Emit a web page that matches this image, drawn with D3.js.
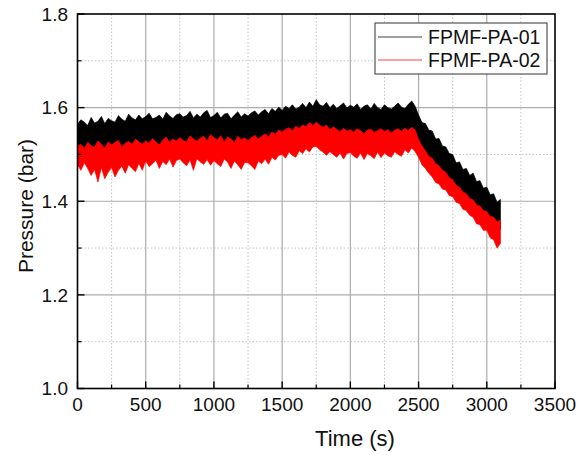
<!DOCTYPE html>
<html>
<head>
<meta charset="utf-8">
<script src="https://cdn.jsdelivr.net/npm/d3@7"></script>
<style>
  body { margin: 0; background: #fff; }
  text { font-family: "Liberation Sans", Arial, sans-serif; fill: #111; }
</style>
</head>
<body>
<svg id="chart" width="587" height="455"></svg>
<script>
// sampled every 25 s from 0 to 3100 s; hi/lo = upper and lower edge of the noisy trace
var sampleStep = 25;

var seriesNames = ['FPMF-PA-01', 'FPMF-PA-02'];
var seriesColors = ['#000000', '#ff0000'];

var pa01Hi = [
  1.565, 1.574, 1.569, 1.562, 1.579, 1.567, 1.571, 1.581, 1.566, 1.577,
  1.572, 1.569, 1.583, 1.575, 1.571, 1.586, 1.578, 1.574, 1.584, 1.576,
  1.581, 1.588, 1.576, 1.579, 1.584, 1.575, 1.590, 1.582, 1.577, 1.585,
  1.587, 1.580, 1.583, 1.592, 1.578, 1.586, 1.580, 1.589, 1.594, 1.579,
  1.583, 1.590, 1.578, 1.586, 1.588, 1.576, 1.584, 1.591, 1.580, 1.587,
  1.582, 1.589, 1.593, 1.584, 1.591, 1.596, 1.587, 1.598, 1.592, 1.601,
  1.594, 1.603, 1.598, 1.606, 1.597, 1.601, 1.609, 1.600, 1.612, 1.603,
  1.617, 1.606, 1.603, 1.611, 1.600, 1.607, 1.598, 1.604, 1.610, 1.599,
  1.605, 1.601, 1.608, 1.596, 1.603, 1.606, 1.597, 1.609, 1.600, 1.596,
  1.606, 1.600, 1.597, 1.603, 1.610, 1.601, 1.598, 1.607, 1.614, 1.603,
  1.584, 1.568, 1.566, 1.552, 1.550, 1.533, 1.534, 1.518, 1.516, 1.502,
  1.500, 1.482, 1.484, 1.468, 1.470, 1.455, 1.460, 1.442, 1.444, 1.428,
  1.430, 1.414, 1.416, 1.398, 1.404
];
var pa01Lo = [
  1.512, 1.508, 1.514, 1.506, 1.511, 1.509, 1.515, 1.507, 1.512, 1.510,
  1.514, 1.509, 1.516, 1.511, 1.518, 1.512, 1.517, 1.513, 1.519, 1.514,
  1.520, 1.515, 1.521, 1.516, 1.522, 1.517, 1.523, 1.518, 1.522, 1.519,
  1.524, 1.518, 1.525, 1.520, 1.526, 1.519, 1.524, 1.521, 1.527, 1.520,
  1.525, 1.519, 1.526, 1.520, 1.524, 1.518, 1.525, 1.519, 1.523, 1.518,
  1.524, 1.519, 1.527, 1.522, 1.530, 1.525, 1.534, 1.528, 1.537, 1.532,
  1.540, 1.535, 1.543, 1.538, 1.546, 1.541, 1.549, 1.544, 1.552, 1.547,
  1.554, 1.548, 1.550, 1.545, 1.547, 1.542, 1.546, 1.540, 1.545, 1.539,
  1.543, 1.538, 1.544, 1.537, 1.542, 1.536, 1.543, 1.537, 1.542, 1.536,
  1.543, 1.537, 1.542, 1.538, 1.544, 1.539, 1.545, 1.540, 1.547, 1.541,
  1.525, 1.512, 1.503, 1.492, 1.484, 1.474, 1.468, 1.458, 1.450, 1.442,
  1.435, 1.424, 1.418, 1.410, 1.404, 1.396, 1.392, 1.383, 1.378, 1.370,
  1.366, 1.356, 1.351, 1.344, 1.340
];
var pa02Hi = [
  1.518, 1.522, 1.512, 1.526, 1.519, 1.515, 1.529, 1.522, 1.513, 1.527,
  1.520, 1.526, 1.530, 1.516, 1.524, 1.528, 1.521, 1.533, 1.527, 1.522,
  1.529, 1.524, 1.534, 1.527, 1.520, 1.531, 1.537, 1.526, 1.533, 1.529,
  1.536, 1.530, 1.527, 1.540, 1.533, 1.528, 1.535, 1.539, 1.529, 1.542,
  1.536, 1.531, 1.540, 1.527, 1.537, 1.533, 1.525, 1.539, 1.532, 1.535,
  1.530, 1.536, 1.541, 1.533, 1.539, 1.544, 1.538, 1.548, 1.543, 1.552,
  1.548, 1.554, 1.557, 1.551, 1.560, 1.556, 1.563, 1.559, 1.568, 1.562,
  1.569, 1.563, 1.558, 1.563, 1.552, 1.559, 1.554, 1.548, 1.556, 1.550,
  1.553, 1.548, 1.555, 1.551, 1.544, 1.552, 1.554, 1.547, 1.551, 1.555,
  1.549, 1.553, 1.546, 1.552, 1.555, 1.549, 1.556, 1.551, 1.558, 1.552,
  1.532, 1.518, 1.508, 1.496, 1.492, 1.480, 1.476, 1.466, 1.462, 1.450,
  1.446, 1.434, 1.430, 1.420, 1.416, 1.406, 1.403, 1.392, 1.390, 1.380,
  1.378, 1.368, 1.366, 1.356, 1.360
];
var pa02Lo = [
  1.478, 1.466, 1.482, 1.470, 1.455, 1.468, 1.441, 1.472, 1.448, 1.462,
  1.472, 1.452, 1.466, 1.475, 1.460, 1.478, 1.470, 1.463, 1.481, 1.466,
  1.486, 1.474, 1.480, 1.488, 1.470, 1.485, 1.478, 1.490, 1.473, 1.487,
  1.490, 1.482, 1.476, 1.488, 1.466, 1.491, 1.484, 1.479, 1.489, 1.477,
  1.487, 1.480, 1.474, 1.490, 1.484, 1.470, 1.486, 1.478, 1.468, 1.483,
  1.482, 1.476, 1.468, 1.486, 1.480, 1.490, 1.479, 1.494, 1.488, 1.498,
  1.500, 1.492, 1.505, 1.498, 1.494, 1.508, 1.502, 1.512, 1.505, 1.516,
  1.517, 1.510, 1.505, 1.498, 1.506, 1.500, 1.494, 1.503, 1.490, 1.502,
  1.504, 1.496, 1.492, 1.503, 1.489, 1.502, 1.497, 1.491, 1.505, 1.493,
  1.503, 1.497, 1.494, 1.506, 1.500, 1.496, 1.510, 1.503, 1.514, 1.506,
  1.494, 1.478, 1.470, 1.460, 1.452, 1.440, 1.437, 1.426, 1.424, 1.412,
  1.410, 1.398, 1.395, 1.383, 1.380, 1.370, 1.366, 1.352, 1.350, 1.338,
  1.338, 1.322, 1.318, 1.300, 1.310
];

var xMajorTicks = [0, 500, 1000, 1500, 2000, 2500, 3000, 3500];
var xMinorTicks = [250, 750, 1250, 1750, 2250, 2750, 3250];
var yMajorTicks = [1.0, 1.2, 1.4, 1.6, 1.8];
var yMinorTicks = [1.1, 1.3, 1.5, 1.7];

var plotLeft = 77.5, plotRight = 555, plotTop = 14, plotBottom = 388.5;

var svg = d3.select('#chart');
var x = d3.scaleLinear().domain([0, 3500]).range([plotLeft, plotRight]);
var y = d3.scaleLinear().domain([1.0, 1.8]).range([plotBottom, plotTop]);

function vLines(g, data, color, width, dash) {
  g.selectAll(null).data(data).enter().append('line')
    .attr('x1', function (d) { return x(d); }).attr('x2', function (d) { return x(d); })
    .attr('y1', plotTop).attr('y2', plotBottom)
    .attr('stroke', color).attr('stroke-width', width).attr('stroke-dasharray', dash);
}
function hLines(g, data, color, width, dash) {
  g.selectAll(null).data(data).enter().append('line')
    .attr('y1', function (d) { return y(d); }).attr('y2', function (d) { return y(d); })
    .attr('x1', plotLeft).attr('x2', plotRight)
    .attr('stroke', color).attr('stroke-width', width).attr('stroke-dasharray', dash);
}

// grid
var grid = svg.append('g');
vLines(grid, xMinorTicks, '#c4c4c4', 1, '1.5,2');
hLines(grid, yMinorTicks, '#c4c4c4', 1, '1.5,2');
vLines(grid, xMajorTicks.slice(1, -1), '#acacac', 1.2, null);
hLines(grid, yMajorTicks.slice(1, -1), '#acacac', 1.2, null);

// traces
svg.append('clipPath').attr('id', 'clip').append('rect')
  .attr('x', plotLeft).attr('y', plotTop)
  .attr('width', plotRight - plotLeft).attr('height', plotBottom - plotTop);

var traces = [
  { hi: pa01Hi, lo: pa01Lo, color: seriesColors[0] },
  { hi: pa02Hi, lo: pa02Lo, color: seriesColors[1] }
];
var band = d3.area()
  .x(function (d) { return x(d.t); })
  .y0(function (d) { return y(d.lo); })
  .y1(function (d) { return y(d.hi); });

var plot = svg.append('g').attr('clip-path', 'url(#clip)');
traces.forEach(function (s) {
  var rows = s.hi.map(function (v, i) { return { t: i * sampleStep, hi: v, lo: s.lo[i] }; });
  plot.append('path').datum(rows)
    .attr('d', band)
    .attr('fill', s.color)
    .attr('stroke', s.color)
    .attr('stroke-width', 0.7)
    .attr('stroke-linejoin', 'miter');
});

// frame and inward ticks
svg.append('rect').attr('x', plotLeft).attr('y', plotTop)
  .attr('width', plotRight - plotLeft).attr('height', plotBottom - plotTop)
  .attr('fill', 'none').attr('stroke', '#000').attr('stroke-width', 1.6);

var ax = svg.append('g');
ax.selectAll(null).data(xMajorTicks).enter().append('line')
  .attr('x1', function (d) { return x(d); }).attr('x2', function (d) { return x(d); })
  .attr('y1', plotBottom).attr('y2', plotBottom - 7).attr('stroke', '#000').attr('stroke-width', 1.4);
ax.selectAll(null).data(xMinorTicks).enter().append('line')
  .attr('x1', function (d) { return x(d); }).attr('x2', function (d) { return x(d); })
  .attr('y1', plotBottom).attr('y2', plotBottom - 4).attr('stroke', '#000').attr('stroke-width', 1.2);
ax.selectAll(null).data(yMajorTicks).enter().append('line')
  .attr('y1', function (d) { return y(d); }).attr('y2', function (d) { return y(d); })
  .attr('x1', plotLeft).attr('x2', plotLeft + 7).attr('stroke', '#000').attr('stroke-width', 1.4);
ax.selectAll(null).data(yMinorTicks).enter().append('line')
  .attr('y1', function (d) { return y(d); }).attr('y2', function (d) { return y(d); })
  .attr('x1', plotLeft).attr('x2', plotLeft + 4).attr('stroke', '#000').attr('stroke-width', 1.2);

ax.selectAll(null).data(xMajorTicks).enter().append('text')
  .attr('x', function (d) { return x(d); }).attr('y', 411)
  .attr('text-anchor', 'middle').attr('font-size', 19)
  .text(function (d) { return d; });
ax.selectAll(null).data(yMajorTicks).enter().append('text')
  .attr('x', 68).attr('y', function (d) { return y(d) + 6.8; })
  .attr('text-anchor', 'end').attr('font-size', 19)
  .text(function (d) { return d.toFixed(1); });

svg.append('text')
  .attr('transform', 'translate(33,206) rotate(-90)')
  .attr('text-anchor', 'middle').attr('font-size', 21)
  .text('Pressure (bar)');
svg.append('text')
  .attr('x', 355).attr('y', 446)
  .attr('text-anchor', 'middle').attr('font-size', 22)
  .text('Time (s)');

// legend
var legend = svg.append('g');
legend.append('rect').attr('x', 375).attr('y', 23).attr('width', 172).attr('height', 51)
  .attr('fill', '#fff').attr('stroke', '#333').attr('stroke-width', 1);
seriesNames.forEach(function (name, i) {
  var ly = 37 + i * 23;
  legend.append('line').attr('x1', 378).attr('x2', 422).attr('y1', ly).attr('y2', ly)
    .attr('stroke', seriesColors[i]).attr('stroke-width', 1).attr('stroke-opacity', 0.75);
  legend.append('text').attr('x', 428).attr('y', ly + 6.5)
    .attr('font-size', 19.5).text(name);
});
</script>
</body>
</html>
